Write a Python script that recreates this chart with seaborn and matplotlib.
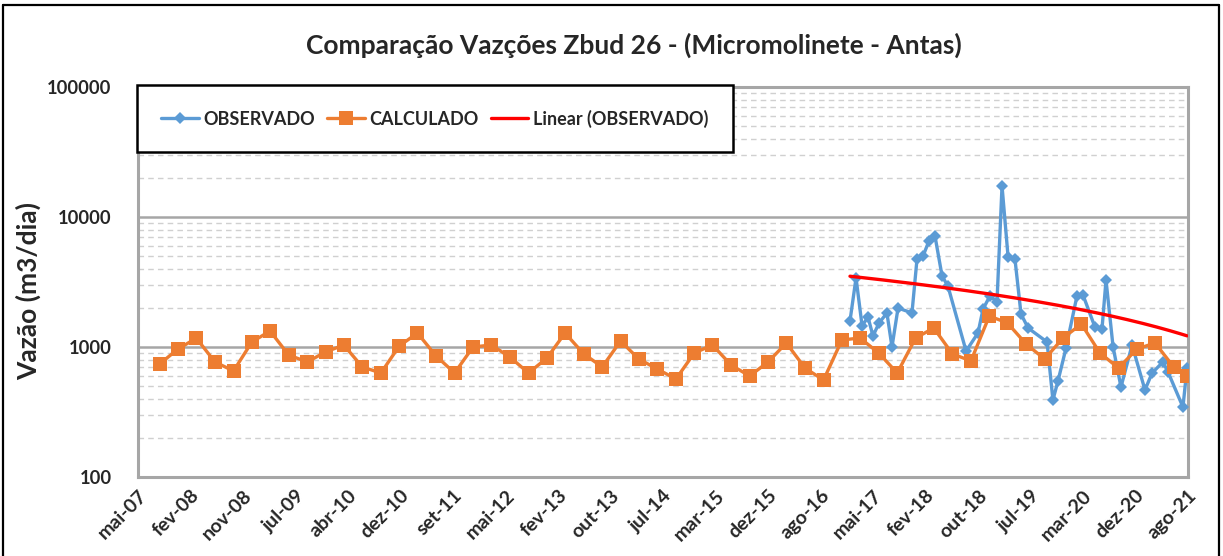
import matplotlib
matplotlib.use("Agg")
import matplotlib.pyplot as plt
import matplotlib.dates as mdates
import matplotlib.transforms as mtransforms
from matplotlib.lines import Line2D
from matplotlib.ticker import FixedLocator, LogLocator, NullFormatter
import seaborn as sns
import pandas as pd
import numpy as np

# ---- data ---------------------------------------------------------------
calc_dates = [
    "2007-09-15", "2007-12-15", "2008-03-15", "2008-06-15", "2008-09-15", "2008-12-15",
    "2009-03-15", "2009-06-15", "2009-09-15", "2009-12-15", "2010-03-15", "2010-06-15",
    "2010-09-15", "2010-12-15", "2011-03-15", "2011-06-15", "2011-09-15", "2011-12-15",
    "2012-03-15", "2012-06-15", "2012-09-15", "2012-12-15", "2013-03-15", "2013-06-15",
    "2013-09-15", "2013-12-15", "2014-03-15", "2014-06-15", "2014-09-15", "2014-12-15",
    "2015-03-15", "2015-06-15", "2015-09-15", "2015-12-15", "2016-03-15", "2016-06-15",
    "2016-09-15", "2016-12-15", "2017-03-15", "2017-06-15", "2017-09-15", "2017-12-15",
    "2018-03-15", "2018-06-15", "2018-09-15", "2018-12-15", "2019-03-15", "2019-06-15",
    "2019-09-15", "2019-12-15", "2020-03-15", "2020-06-15", "2020-09-15", "2020-12-15",
    "2021-03-15", "2021-06-15", "2021-08-20",
]
calc_values = [
    740, 965, 1170, 767, 654, 1093,
    1328, 868, 767, 916, 1036, 702,
    631, 1018, 1281, 853, 631, 1000,
    1036, 836, 631, 822, 1281, 886,
    702, 1112, 808, 677, 567, 899,
    1036, 727, 598, 767, 1073, 689,
    557, 1132, 1173, 899, 631, 1173,
    1400, 886, 781, 1731, 1530, 1055,
    808, 1173, 1503, 899, 689, 966,
    1073, 702, 598,
]

obs_dates = [
    "2017-01-24", "2017-02-23", "2017-03-25", "2017-04-23", "2017-05-18", "2017-06-17",
    "2017-07-26", "2017-08-20", "2017-09-19", "2017-11-27", "2017-12-22", "2018-01-21",
    "2018-02-19", "2018-03-21", "2018-04-25", "2018-05-24", "2018-08-22", "2018-10-20",
    "2018-11-14", "2018-12-18", "2019-01-22", "2019-02-16", "2019-03-18", "2019-04-21",
    "2019-05-21", "2019-06-25", "2019-09-27", "2019-10-26", "2019-11-20", "2019-12-30",
    "2020-02-22", "2020-03-23", "2020-05-21", "2020-06-25", "2020-07-15", "2020-08-19",
    "2020-09-27", "2020-11-21", "2021-01-24", "2021-02-28", "2021-04-23", "2021-05-18",
    "2021-07-31", "2021-08-20",
]
obs_values = [
    1585, 3400, 1452, 1702, 1216, 1530,
    1827, 1000, 1995, 1827, 4753, 5012,
    6535, 7145, 3516, 2944, 931, 1282,
    1960, 2466, 2219, 17300, 4923, 4753,
    1795, 1400, 1093, 391, 547, 983,
    2466, 2512, 1425, 1374, 3273, 1000,
    492, 1036, 467, 631, 767, 642,
    345, 689,
]

x_tick_labels = [
    "mai-07", "fev-08", "nov-08", "jul-09", "abr-10", "dez-10", "set-11",
    "mai-12", "fev-13", "out-13", "jul-14", "mar-15", "dez-15", "ago-16",
    "mai-17", "fev-18", "out-18", "jul-19", "mar-20", "dez-20", "ago-21",
]
y_ticks = [100, 1000, 10000, 100000]

BLUE = "#5B9BD5"
ORANGE = "#ED7D31"
RED = "#FF0000"

calc_df = pd.DataFrame({"data": pd.to_datetime(calc_dates), "vazao": calc_values})
obs_df = pd.DataFrame({"data": pd.to_datetime(obs_dates), "vazao": obs_values})

# linear trend of the observed series (least squares on the date number)
xn = mdates.date2num(obs_df["data"])
coef = np.polyfit(xn, obs_df["vazao"].to_numpy(dtype=float), 1)
trend_x = np.linspace(xn.min(), xn.max(), 200)
trend_df = pd.DataFrame({"data": mdates.num2date(trend_x), "vazao": np.polyval(coef, trend_x)})

# ---- figure -------------------------------------------------------------
sns.set_theme(style="white")
plt.rcParams["font.family"] = ["Lato", "DejaVu Sans"]
plt.rcParams["font.weight"] = "bold"

fig = plt.figure(figsize=(12.23, 5.56), dpi=100)
ax = fig.add_axes([138 / 1223, 1 - 477 / 556, 1050 / 1223, 390 / 556])

sns.lineplot(data=obs_df, x="data", y="vazao", ax=ax, color=BLUE, linewidth=2.4,
             marker="D", markersize=6.5, markeredgewidth=0, sort=False, legend=False, zorder=3)
sns.lineplot(data=calc_df, x="data", y="vazao", ax=ax, color=ORANGE, linewidth=2.4,
             marker="s", markersize=10, markeredgewidth=0, sort=False, legend=False, zorder=4)
sns.lineplot(data=trend_df, x="data", y="vazao", ax=ax, color=RED, linewidth=2.4,
             sort=False, legend=False, zorder=5)

# axes scales
ax.set_yscale("log")
ax.set_ylim(100, 100000)
start = pd.Timestamp("2007-05-31")
tick_dates = pd.date_range(start, periods=len(x_tick_labels), freq="260D")
ax.set_xlim(tick_dates[0], tick_dates[-1])
ax.xaxis.set_major_locator(FixedLocator(mdates.date2num(tick_dates)))
ax.set_xticklabels(x_tick_labels, rotation=45, ha="right", rotation_mode="anchor",
                   fontsize=14, fontweight="bold")
shift = mtransforms.ScaledTranslation(-4 / 100, 0, fig.dpi_scale_trans)
for lbl in ax.get_xticklabels():
    lbl.set_transform(lbl.get_transform() + shift)
ax.yaxis.set_major_locator(FixedLocator(y_ticks))
ax.set_yticklabels([str(v) for v in y_ticks], fontsize=13.2, fontweight="bold")
ax.yaxis.set_minor_locator(LogLocator(base=10, subs=np.arange(2, 10)))
ax.yaxis.set_minor_formatter(NullFormatter())
ax.tick_params(axis="both", which="both", length=0)
ax.tick_params(axis="y", pad=19)
ax.tick_params(axis="x", pad=7)
ax.set_xlabel("")
ax.set_ylabel("")

ax.grid(False)
ax.yaxis.grid(True, which="major", color="#a6a6a6", linewidth=1.8, linestyle="-")
ax.yaxis.grid(True, which="minor", color="#d0d0d0", linewidth=1.0, linestyle=(0, (4, 3)))
ax.set_axisbelow(True)
for side in ["left", "right", "bottom", "top"]:
    ax.spines[side].set_visible(True)
    ax.spines[side].set_color("#a6a6a6")
    ax.spines[side].set_linewidth(2.2)

# legend
handles = [
    Line2D([], [], color=BLUE, lw=2.4, marker="D", markersize=6.5, markeredgewidth=0),
    Line2D([], [], color=ORANGE, lw=2.4, marker="s", markersize=10, markeredgewidth=0),
    Line2D([], [], color=RED, lw=2.4),
]
leg = ax.legend(handles, ["OBSERVADO", "CALCULADO", "Linear (OBSERVADO)"], ncol=3,
                loc="upper left", bbox_to_anchor=(-0.001, 1.005), borderaxespad=0,
                frameon=True, fancybox=False, framealpha=1, edgecolor="black",
                prop={"size": 13, "weight": "bold"}, handlelength=2.1,
                handletextpad=0.25, columnspacing=0.65, borderpad=1.35)
leg.get_frame().set_linewidth(1.8)
leg.set_zorder(10)

# titles
fig.text(634 / 1223, 1 - 45 / 556, "Comparação Vazções Zbud 26 - (Micromolinete - Antas)",
         ha="center", va="center", fontsize=19, fontweight="bold")
fig.text(28 / 1223, 1 - 291 / 556, "Vazão (m3/dia)", ha="center", va="center",
         rotation=90, fontsize=19, fontweight="bold")

# outer chart frame
frame_kw = dict(color="black", linewidth=1.6, transform=fig.transFigure)
fig.add_artist(Line2D([3 / 1223, 3 / 1223], [0, 1 - 5 / 556], **frame_kw))
fig.add_artist(Line2D([3 / 1223, 1219 / 1223], [1 - 5 / 556, 1 - 5 / 556], **frame_kw))
fig.add_artist(Line2D([1219 / 1223, 1219 / 1223], [1 - 5 / 556, 0], **frame_kw))

fig.savefig("out.png", dpi=100)
